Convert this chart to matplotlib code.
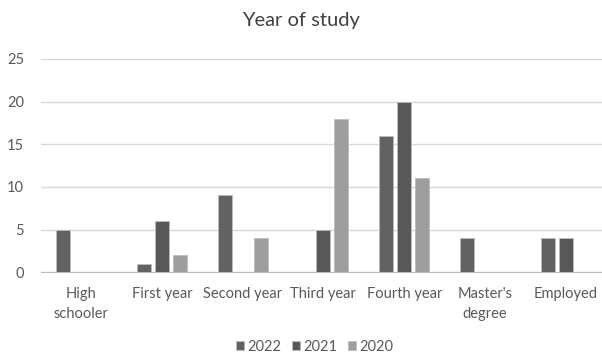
import matplotlib.pyplot as plt
import numpy as np

categories = ['High\nschooler', 'First year', 'Second year', 'Third year',
              'Fourth year', "Master's\ndegree", 'Employed']
years = ['2022', '2021', '2020']
counts_2022 = [5, 1, 9, 0, 16, 4, 4]
counts_2021 = [0, 6, 0, 5, 20, 0, 4]
counts_2020 = [0, 2, 4, 18, 11, 0, 0]

colors = ['#626262', '#585858', '#9e9e9e']
text_color = '#595959'

plt.rcParams['font.family'] = ['Lato', 'DejaVu Sans']

fig = plt.figure(figsize=(6.02, 3.53), dpi=100)
# the category band runs slightly past the right edge of the canvas
ax = fig.add_axes([0.0675, 0.229, 0.9395, 0.604])

x = np.arange(len(categories))
width = 0.173
step = 0.223
for i, (vals, lab) in enumerate(zip([counts_2022, counts_2021, counts_2020], years)):
    ax.bar(x + (i - 1) * step, vals, width, color=colors[i], label=lab,
           edgecolor='#bdbdbd', linewidth=0.6, zorder=3)

ax.set_xlim(-0.5, len(categories) - 0.5)
ax.set_ylim(0, 25)
ax.set_yticks(range(0, 26, 5))
ax.yaxis.grid(True, color='#d9d9d9', linewidth=1, zorder=0)
ax.set_xticks(x)
ax.set_xticklabels(categories, fontsize=10.5, color=text_color, linespacing=1.5)
ax.tick_params(axis='y', labelsize=10.5, labelcolor=text_color, length=0, pad=12)
ax.tick_params(axis='x', length=0, pad=11)
for side in ['top', 'right', 'left']:
    ax.spines[side].set_visible(False)
ax.spines['bottom'].set_color('#bfbfbf')

fig.suptitle('Year of study', x=0.5, y=0.965, fontsize=14.5, color='#404040')

fig.legend(loc='center', bbox_to_anchor=(0.523, 0.018), ncol=3, frameon=False,
           fontsize=10.5, labelcolor=text_color, handlelength=0.55, handleheight=0.55,
           handletextpad=0.25, columnspacing=0.7)

fig.savefig('out.png', dpi=100, facecolor='white')
